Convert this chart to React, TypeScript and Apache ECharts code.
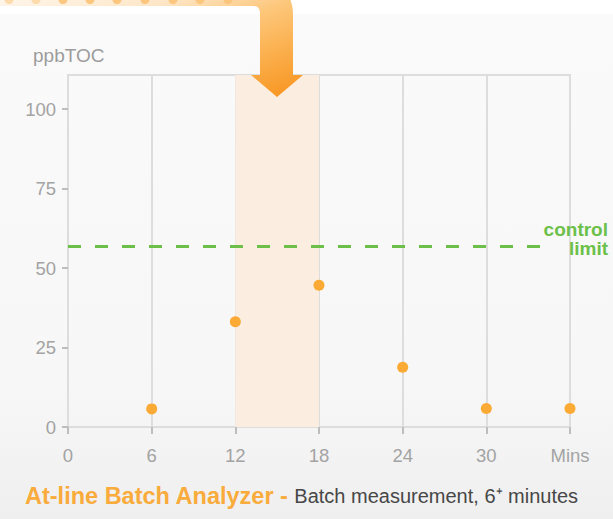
import React, { useEffect, useRef } from "react";
import * as echarts from "echarts";

// ---- data ----
const minutes = [6, 12, 18, 24, 30, 36];
const tocValues = [5.7, 33.1, 44.6, 18.8, 5.8, 5.8];
const controlLimit = 57;
const highlightStart = 12;
const highlightEnd = 18;
const yTickValues = [0, 25, 50, 75, 100];
const xLabels: Record<number, string> = { 0: "0", 6: "6", 12: "12", 18: "18", 24: "24", 30: "30", 36: "Mins" };
const yAxisName = "ppbTOC";
const titleBold = "At-line Batch Analyzer -";
const titleRest = "Batch measurement, 6\u207A minutes";
const controlText = "control\nlimit";
const topDotsX = [9, 36, 63, 90, 117, 145, 173, 200, 228];

const ARROW_D =
  "M0 -15 L263 -15 Q293 -15 293 15 L293 75 L303 75 L277 97 L251 75 L260 75 L260 13 Q260 6 253 6 L0 6 Z";

let registered = false;
function ensureShape() {
  if (registered) return;
  echarts.graphic.registerShape("arrowShape", echarts.graphic.extendPath(ARROW_D, {}) as any);
  registered = true;
}

export default function App() {
  const ref = useRef<HTMLDivElement>(null);
  useEffect(() => {
    if (!ref.current) return;
    ensureShape();
    const chart = echarts.init(ref.current, undefined, { renderer: "svg" });
    const font = "Liberation Sans, Arial, sans-serif";
    chart.setOption({
      animation: false,
      backgroundColor: {
        type: "linear",
        x: 0,
        y: 0,
        x2: 0,
        y2: 1,
        colorStops: [
          { offset: 0, color: "#ffffff" },
          { offset: 0.026, color: "#ffffff" },
          { offset: 0.027, color: "#fafafa" },
          { offset: 0.75, color: "#f7f7f7" },
          { offset: 1, color: "#efefef" },
        ],
      },
      grid: {
        left: 68,
        right: 43,
        top: 75,
        bottom: 92,
        show: true,
        backgroundColor: "transparent",
        borderColor: "#dddddd",
        borderWidth: 2,
      },
      xAxis: {
        type: "value",
        min: 0,
        max: 36,
        interval: 6,
        axisLine: { show: true, lineStyle: { color: "#dddddd", width: 2 } },
        axisTick: { show: true, length: 7, lineStyle: { color: "#bdbdbd", width: 2 } },
        splitLine: { show: true, lineStyle: { color: "#dddddd", width: 2 } },
        axisLabel: {
          margin: 19,
          fontSize: 18.5,
          color: "#a3a3a3",
          fontFamily: font,
          formatter: (v: number) => xLabels[v] ?? String(v),
        },
      },
      yAxis: {
        type: "value",
        min: 0,
        max: 110.7,
        axisLine: { show: true, lineStyle: { color: "#dddddd", width: 2 } },
        axisTick: { show: true, length: 6, customValues: yTickValues, lineStyle: { color: "#bdbdbd", width: 2 } },
        splitLine: { show: false },
        axisLabel: { margin: 12, fontSize: 18.5, color: "#a3a3a3", fontFamily: font, customValues: yTickValues },
      },
      series: [
        {
          type: "scatter",
          z: -1,
          data: [],
          silent: true,
          markArea: {
            silent: true,
            itemStyle: { color: "#fbeee0", opacity: 1 },
            data: [[{ xAxis: highlightStart }, { xAxis: highlightEnd }]],
          },
        },
        {
          type: "scatter",
          z: 3,
          symbolSize: 11,
          itemStyle: { color: "#fbab35", opacity: 1 },
          data: minutes.map((m, i) => [m, tocValues[i]]),
          markLine: {
            silent: true,
            symbol: "none",
            label: { show: false },
            lineStyle: { color: "#6cc04a", width: 3, type: [13, 14], opacity: 1 },
            data: [[{ coord: [0, controlLimit] }, { coord: [34.4, controlLimit] }]],
          },
        },
      ],
      graphic: [
        {
          type: "arrowShape",
          z: 100,
          x: 0,
          y: 0,
          silent: true,
          style: {
            fill: {
              type: "linear",
              x: 0,
              y: 0,
              x2: 1,
              y2: 1,
              colorStops: [
                { offset: 0, color: "rgba(254,240,222,0.5)" },
                { offset: 0.35, color: "#fde6c6" },
                { offset: 0.55, color: "#fdc77b" },
                { offset: 0.75, color: "#fbb04e" },
                { offset: 1, color: "#f7921c" },
              ],
            },
          },
        },
        ...topDotsX.map((cx, i) => ({
          type: "circle",
          z: 110,
          shape: { cx, cy: -0.5, r: 4.5 },
          style: { fill: i < 2 ? "#fdd9a8" : "#fcc47a", opacity: 0.95 },
          silent: true,
        })),
        {
          type: "text",
          z: 100,
          silent: true,
          style: {
            x: 33,
            y: 55,
            text: yAxisName,
            fontSize: 19,
            fontFamily: font,
            fill: "#9c9c9c",
            verticalAlign: "middle",
          },
        },
        {
          type: "text",
          z: 100,
          silent: true,
          style: {
            x: 608,
            y: 238.5,
            text: controlText,
            align: "right",
            verticalAlign: "middle",
            fontSize: 19,
            lineHeight: 19,
            fontWeight: "bold",
            fontFamily: font,
            fill: "#6cc04a",
          },
        },
        {
          type: "text",
          z: 100,
          silent: true,
          style: {
            x: 25,
            y: 496,
            verticalAlign: "middle",
            text: "{a|" + titleBold + "} {b|" + titleRest + "}",
            rich: {
              a: { fontSize: 23.5, fontWeight: "bold", fill: "#f9ab3b", color: "#f9ab3b", fontFamily: font },
              b: { fontSize: 20, fill: "#474747", color: "#474747", fontFamily: font },
            },
            fontSize: 20,
            fontFamily: font,
          },
        },
      ],
    });
    return () => chart.dispose();
  }, []);
  return (
    <div
      ref={ref}
      style={{ position: "fixed", left: 0, top: 0, width: 613, height: 519 }}
    />
  );
}
